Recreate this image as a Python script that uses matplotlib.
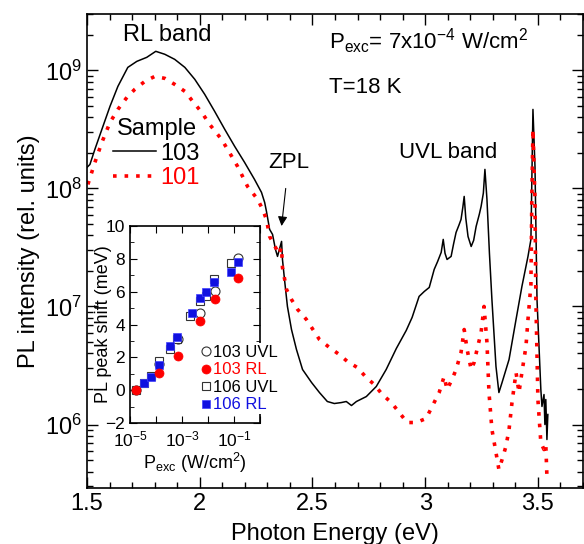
import matplotlib
matplotlib.use("Agg")
import matplotlib.pyplot as plt
from matplotlib.ticker import LogLocator, MultipleLocator, NullFormatter, NullLocator
from matplotlib.lines import Line2D
import numpy as np

plt.rcParams['font.family'] = ['Liberation Sans', 'DejaVu Sans']
plt.rcParams['mathtext.fontset'] = 'custom'
plt.rcParams['mathtext.rm'] = 'Liberation Sans'
plt.rcParams['mathtext.it'] = 'Liberation Sans'

# sample 103 (black): photon energy (eV), log10 of PL intensity
e_103 = [1.500, 1.513, 1.535, 1.566, 1.602, 1.637, 1.681, 1.721, 1.765, 1.805,
         1.845, 1.889, 1.934, 1.978, 2.022, 2.066, 2.111, 2.155, 2.199, 2.243,
         2.274, 2.288, 2.296, 2.310, 2.323, 2.336, 2.345, 2.363, 2.367, 2.376,
         2.389, 2.407, 2.429, 2.456, 2.496, 2.531, 2.566, 2.597, 2.628, 2.650,
         2.673, 2.695, 2.739, 2.783, 2.827, 2.872, 2.916, 2.942, 2.973, 2.996,
         3.018, 3.040, 3.055, 3.071, 3.080, 3.088, 3.097, 3.115, 3.126, 3.137,
         3.150, 3.159, 3.167, 3.173, 3.180, 3.190, 3.204, 3.215, 3.226, 3.240,
         3.248, 3.258, 3.265, 3.274, 3.285, 3.296, 3.314, 3.327, 3.341, 3.372,
         3.403, 3.429, 3.456, 3.469, 3.478, 3.487, 3.496, 3.513, 3.518, 3.527,
         3.531, 3.535, 3.540, 3.544]
lg_103 = [8.178, 8.203, 8.331, 8.500, 8.695, 8.864, 9.025, 9.076, 9.110, 9.161,
          9.136, 9.093, 9.025, 8.924, 8.797, 8.653, 8.500, 8.356, 8.220, 8.076,
          7.966, 7.881, 7.805, 7.653, 7.610, 7.483, 7.424, 7.551, 7.398, 7.229,
          7.000, 6.805, 6.636, 6.466, 6.356, 6.271, 6.195, 6.178, 6.186, 6.195,
          6.161, 6.195, 6.237, 6.322, 6.466, 6.644, 6.797, 6.907, 7.085, 7.127,
          7.161, 7.314, 7.380, 7.458, 7.568, 7.450, 7.398, 7.424, 7.530, 7.627,
          7.690, 7.737, 7.840, 7.932, 7.750, 7.593, 7.508, 7.560, 7.678, 7.780,
          7.847, 7.960, 8.161, 7.907, 7.450, 7.059, 6.492, 6.271, 6.356, 6.551,
          6.890, 7.169, 7.424, 7.568, 8.669, 8.186, 7.059, 6.297, 6.153, 6.254,
          6.000, 6.212, 5.873, 6.085]

# sample 101 (red dotted)
e_101 = [1.504, 1.535, 1.566, 1.602, 1.637, 1.677, 1.712, 1.757, 1.801, 1.845,
         1.889, 1.934, 1.969, 2.009, 2.044, 2.097, 2.142, 2.168, 2.212, 2.257,
         2.279, 2.296, 2.310, 2.341, 2.350, 2.363, 2.367, 2.385, 2.407, 2.434,
         2.473, 2.531, 2.575, 2.619, 2.655, 2.699, 2.739, 2.774, 2.810, 2.850,
         2.885, 2.920, 2.960, 3.004, 3.031, 3.062, 3.084, 3.097, 3.119, 3.137,
         3.159, 3.173, 3.186, 3.204, 3.217, 3.230, 3.248, 3.261, 3.274, 3.283,
         3.296, 3.314, 3.327, 3.341, 3.358, 3.372, 3.385, 3.403, 3.416, 3.429,
         3.447, 3.456, 3.469, 3.473, 3.478, 3.487, 3.491, 3.500, 3.513, 3.527,
         3.535, 3.540]
lg_101 = [8.034, 8.220, 8.390, 8.559, 8.669, 8.771, 8.839, 8.907, 8.949, 8.932,
          8.881, 8.822, 8.737, 8.644, 8.542, 8.415, 8.271, 8.186, 8.017, 7.907,
          7.822, 7.737, 7.593, 7.483, 7.441, 7.500, 7.331, 7.144, 7.059, 6.975,
          6.890, 6.720, 6.653, 6.593, 6.534, 6.483, 6.398, 6.339, 6.254, 6.186,
          6.102, 6.017, 6.017, 6.051, 6.153, 6.271, 6.407, 6.297, 6.381, 6.466,
          6.610, 6.805, 6.636, 6.466, 6.525, 6.636, 6.780, 7.000, 6.695, 6.271,
          5.958, 5.763, 5.619, 5.703, 5.814, 5.958, 6.186, 6.441, 6.271, 6.441,
          6.661, 6.890, 7.186, 7.907, 8.500, 7.907, 7.059, 6.212, 5.847, 5.788,
          5.831, 5.559]

# inset: log10 of excitation power (W/cm2) and peak shift (meV)
lp_103 = [-4.78, -3.90, -3.14, -2.29, -1.74, -0.86]
shift_103_uvl = [0.0, 1.6, 3.1, 4.73, 6.03, 8.08]
shift_103_rl = [0.0, 1.07, 2.06, 4.2, 5.55, 6.85]
lp_106_uvl = [-4.78, -4.48, -4.19, -3.88, -3.46, -3.19, -2.70, -2.29, -2.07, -1.78, -1.12]
shift_106_uvl = [0.0, 0.45, 0.85, 1.75, 2.5, 3.1, 4.5, 5.45, 5.75, 6.8, 7.72]
lp_106_rl = [-4.48, -4.19, -3.88, -3.46, -3.19, -2.61, -2.29, -2.07, -1.77, -1.12, -0.84]
shift_106_rl = [0.43, 0.78, 1.56, 2.7, 3.25, 4.73, 5.6, 5.97, 6.58, 7.18, 7.82]

fig = plt.figure(figsize=(5.84, 5.44), dpi=100)
ax = fig.add_axes([87/584, 1 - 488/544, 496/584, 474/544])

ax.plot(e_103, 10**np.array(lg_103), color="black", lw=1.1)
ax.plot(e_101, 10**np.array(lg_101), color="red", lw=2.6, linestyle=(0, (1, 2.2)))

ax.set_yscale("log")
ax.set_xlim(1.5, 3.7)
ax.set_ylim(2.9e5, 3.0e9)
ax.xaxis.set_major_locator(MultipleLocator(0.5))
ax.xaxis.set_minor_locator(MultipleLocator(0.1))
ax.xaxis.set_major_formatter(plt.FuncFormatter(lambda v, p: f"{v:g}"))
ax.yaxis.set_major_locator(LogLocator(base=10, numticks=10))
ax.yaxis.set_minor_locator(LogLocator(base=10, subs=np.arange(2, 10), numticks=20))
ax.yaxis.set_minor_formatter(NullFormatter())
ax.tick_params(which="both", direction="in", top=True, right=True, labelsize=17, width=1)
ax.tick_params(which="major", length=8)
ax.tick_params(which="minor", length=4)
for s in ax.spines.values():
    s.set_linewidth(1.2)
ax.set_xlabel("Photon Energy (eV)", fontsize=17, labelpad=6)
ax.set_ylabel("PL intensity (rel. units)", fontsize=17, labelpad=4)

ax.text(1.858, 2.0e9, "RL band", fontsize=17, ha="center", va="center")
ax.text(2.575, 1.75e9, r"P$_{\rm exc}$= 7x10$^{-4}$ W/cm$^{2}$", fontsize=16, ha="left", va="center")
ax.text(2.575, 7.2e8, "T=18 K", fontsize=16, ha="left", va="center")
ax.text(3.102, 2.0e8, "UVL band", fontsize=16, ha="center", va="center")
ax.annotate("ZPL", xy=(2.363, 4.8e7), xytext=(2.394, 1.65e8), fontsize=16,
            ha="center", va="center",
            arrowprops=dict(arrowstyle="-|>", color="black", lw=0.8,
                            shrinkA=9, shrinkB=0, mutation_scale=14,
                            connectionstyle="arc3"))

leg_handles = [Line2D([], [], color="black", lw=1.1),
               Line2D([], [], color="red", lw=2.6, linestyle=(0, (1, 2.2)))]
leg = ax.legend(leg_handles, ["103", "101"], title="Sample", loc="upper left",
                bbox_to_anchor=(0.02, 0.815), frameon=False, fontsize=17,
                title_fontsize=17, handlelength=1.8, handletextpad=0.2,
                labelspacing=0.1, borderpad=0.2)
leg.get_texts()[1].set_color("red")

# inset
ins = fig.add_axes([130/584, 1 - 423/544, 130/584, 197/544])
ins.set_xscale("log")
ins.plot(10**np.array(lp_103), shift_103_uvl, "o", ms=6.5, mfc="white", mec="#333333",
         mew=0.8, label="103 UVL")
ins.plot(10**np.array(lp_106_uvl), shift_106_uvl, "s", ms=6, mfc="white", mec="#333333",
         mew=0.8, label="106 UVL")
ins.plot(10**np.array(lp_106_rl), shift_106_rl, "s", ms=6, color="#1010e0", mec="#4040ff",
         mew=0.5, label="106 RL")
ins.plot(10**np.array(lp_103), shift_103_rl, "o", ms=6.5, color="red", mec="red",
         mew=0.5, label="103 RL")
ins.set_xlim(1e-5, 1)
ins.set_ylim(-2, 10)
ins.xaxis.set_minor_locator(NullLocator())
ins.set_xticks([1e-5, 1e-4, 1e-3, 1e-2, 1e-1, 1])
ins.set_xticklabels([r"10$^{-5}$", "", r"10$^{-3}$", "", r"10$^{-1}$", ""])
ins.yaxis.set_major_locator(MultipleLocator(2))
ins.yaxis.set_minor_locator(MultipleLocator(1))
ins.tick_params(which="both", direction="in", top=True, right=True, labelsize=12.5)
ins.tick_params(axis="x", pad=5)
ins.tick_params(which="major", length=5)
ins.tick_params(which="minor", length=3)
for s in ins.spines.values():
    s.set_linewidth(1.2)
ins.set_xlabel(r"P$_{\rm exc}$ (W/cm$^2$)", fontsize=13, labelpad=1)
ins.set_ylabel("PL peak shift (meV)", fontsize=13)
ins.yaxis.set_label_coords(-0.14, 0.5)

h, l = ins.get_legend_handles_labels()
order = [0, 3, 1, 2]
ileg = ins.legend([h[i] for i in order], [l[i] for i in order], loc="lower right",
                  bbox_to_anchor=(1.15, 0.045), fontsize=12, frameon=True,
                  handlelength=0.6, handletextpad=0.1, labelspacing=0.15,
                  borderpad=0.1, borderaxespad=0)
ileg.get_frame().set_edgecolor("none")
ileg.get_frame().set_facecolor("white")
ileg.get_frame().set_alpha(1)
for t, c in zip(ileg.get_texts(), ["black", "red", "black", "#1010e0"]):
    t.set_color(c)

fig.savefig("out.png", dpi=100)
